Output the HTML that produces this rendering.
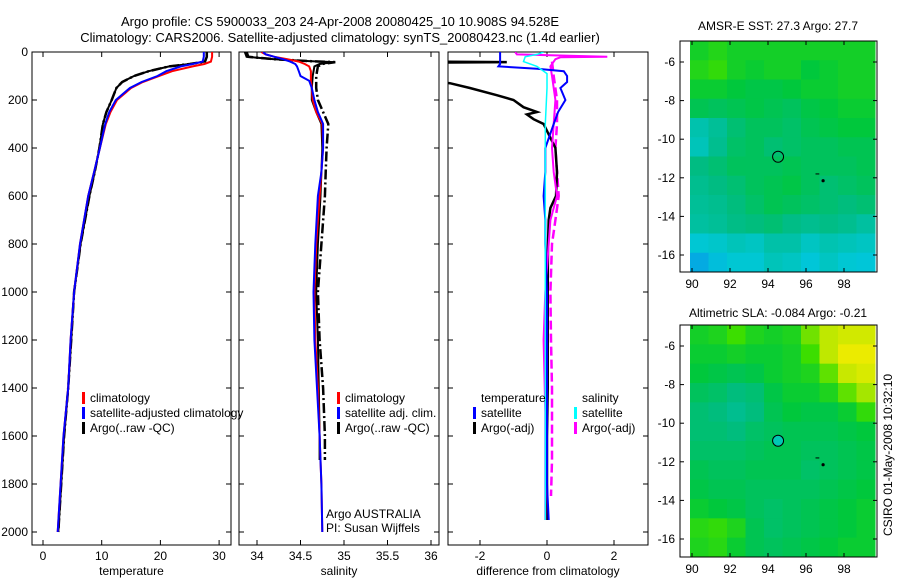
<!DOCTYPE html>
<html><head><meta charset="utf-8"><style>
body{margin:0;background:#fff;}
svg{display:block;font-family:"Liberation Sans",sans-serif;}
text{font-size:12px;fill:#000;}
</style></head><body>
<svg id="c" width="900" height="580" xmlns="http://www.w3.org/2000/svg">
<rect width="900" height="580" fill="#fff"/>
<text x="340" y="26" text-anchor="middle" style="font-size:13px">Argo profile: CS 5900033_203 24-Apr-2008 20080425_10 10.908S 94.528E</text>
<text x="340" y="42" text-anchor="middle" style="font-size:13px">Climatology: CARS2006. Satellite-adjusted climatology: synTS_20080423.nc (1.4d earlier)</text>
<text x="778" y="30" text-anchor="middle">AMSR-E SST: 27.3 Argo: 27.7</text>
<text x="778" y="317" text-anchor="middle">Altimetric SLA: -0.084 Argo: -0.21</text>
<text transform="translate(892,455) rotate(-90)" text-anchor="middle">CSIRO 01-May-2008 10:32:10</text>
<g id="g"></g>
</svg>
<script>
// ---- data ----
const depthTicks=[0,200,400,600,800,1000,1200,1400,1600,1800,2000];
const tTicks=[0,10,20,30];
const sTicks=[34,34.5,35,35.5,36];
const dTicks=[-2,0,2];
const depthT=[0,20,40,50,60,80,100,125,150,200,250,300,400,500,600,800,1000,1200,1400,1600,1800,2000];
const climT=[28.8,28.8,28.6,27.5,25.5,22,19.8,17,15,12.6,11.5,10.7,9.7,8.7,7.7,6.3,5.3,4.7,4.3,3.5,3.0,2.5];
const satT=[27.4,27.4,27.2,25.5,23.5,21,19.5,16.8,14.8,12.4,11.3,10.6,9.7,8.7,7.7,6.3,5.3,4.7,4.3,3.5,3.0,2.5];
const argoT=[27.9,27.9,27.6,25,21.5,18,15.5,13.5,12.5,11.7,10.8,10.2,9.6,8.8,7.9,6.4,5.3,4.8,4.3,3.6,3.1,2.6];
const depthS=[0,10,20,30,40,50,60,80,100,120,150,200,250,300,400,500,600,800,1000,1200,1400,1600,1800,2000];
const climS=[34.05,34.1,34.2,34.35,34.48,34.55,34.6,34.62,34.62,34.62,34.63,34.64,34.68,34.75,34.76,34.74,34.72,34.68,34.66,34.67,34.7,34.72,34.74,34.75];
const satS=[34.07,34.1,34.2,34.3,34.38,34.44,34.46,34.48,34.5,34.6,34.63,34.66,34.7,34.76,34.76,34.74,34.7,34.67,34.65,34.66,34.69,34.72,34.74,34.75];
const depthA=[0,20,30,38,42,50,60,100,150,200,250,300,400,500,600,800,1000,1200,1400,1600,1700];
const argoS=[33.86,33.88,34.2,34.6,34.88,34.72,34.66,34.64,34.63,34.63,34.68,34.74,34.75,34.74,34.73,34.7,34.68,34.7,34.71,34.72,34.72];
const argoRawS=[33.88,33.9,34.2,34.6,34.9,34.75,34.7,34.68,34.68,34.7,34.76,34.82,34.8,34.79,34.78,34.74,34.7,34.72,34.76,34.78,34.78];
const depthD=[0,10,20,30,40,50,60,70,80,100,125,150,200,250,300,400,500,600,700,800,1000,1200,1400,1600,1800,1950];
const tempSatD=[-1.4,-1.4,-1.4,-1.4,-1.4,-1.4,-1.45,-0.3,0.5,0.6,0.6,0.4,0.55,0.33,0.2,-0.05,-0.05,-0.1,-0.05,-0.05,0,0,0,0,0,0.05];
const depthAD=[0,40,42,44,120,130,150,180,200,230,250,260,280,300,400,500,600,650,700,800,1000,1200,1400,1600,1800,1950];
const tempArgoD=[-3.5,-3.5,-1.2,-3.5,-3.5,-2.9,-2.3,-1.5,-1.0,-0.7,-0.3,-0.6,-0.4,-0.1,0.25,0.3,0.27,0.1,0.05,0.03,0.02,0.02,0.02,0,0,0];
const depthCD=[0,10,20,40,60,90,150,300,600,1000,1500,1950];
const salSatD=[-0.1,-0.3,-0.65,-0.7,-0.3,0,0,-0.05,-0.05,-0.05,-0.05,-0.05];
const depthMD=[0,10,20,22,30,60,100,200,300,400,500,600,700,800,1000,1200,1500,1800,1950];
const salArgoD=[-0.95,-0.9,1.8,0.4,0.25,0.1,0.15,0.25,0.2,0.15,0.2,0.3,0.1,0.05,-0.05,-0.1,-0.05,-0.05,-0.05];
const depthMD2=[40,100,200,300,400,500,600,700,800,1000,1200,1400,1600,1700,1850];
const salArgoRawD=[0.15,0.2,0.3,0.3,0.25,0.3,0.35,0.25,0.15,0.1,0.12,0.15,0.15,0.15,0.12];
const latTicks=[-6,-8,-10,-12,-14,-16];
const lonTicks=[90,92,94,96,98];
const sstGrid=[
[.72,.75,.72,.72,.72,.72,.72,.72,.72,.72],
[.75,.78,.72,.70,.72,.72,.68,.70,.72,.72],
[.70,.70,.68,.66,.66,.68,.70,.70,.72,.72],
[.64,.62,.64,.66,.64,.62,.66,.68,.70,.70],
[.45,.50,.58,.62,.62,.60,.64,.66,.68,.68],
[.42,.52,.60,.62,.58,.60,.62,.62,.64,.64],
[.55,.58,.62,.62,.62,.64,.62,.62,.62,.64],
[.52,.55,.58,.62,.64,.66,.62,.58,.60,.62],
[.50,.52,.56,.60,.64,.62,.60,.58,.56,.58],
[.48,.50,.54,.56,.58,.54,.52,.54,.52,.48],
[.36,.38,.42,.40,.46,.46,.40,.44,.42,.40],
[.20,.30,.36,.36,.42,.40,.34,.40,.36,.34]];
const slaGrid=[
[.72,.74,.80,.74,.72,.74,.86,.95,.97,.97],
[.70,.70,.72,.70,.70,.72,.80,.95,1,1],
[.68,.66,.64,.66,.70,.72,.74,.84,.96,.98],
[.62,.60,.56,.58,.66,.70,.70,.74,.84,.92],
[.58,.56,.52,.56,.64,.68,.66,.66,.70,.78],
[.58,.58,.56,.60,.62,.64,.64,.64,.66,.68],
[.60,.60,.60,.62,.64,.64,.62,.62,.64,.66],
[.64,.62,.62,.64,.64,.64,.60,.62,.64,.66],
[.66,.64,.64,.62,.62,.62,.62,.64,.66,.68],
[.70,.68,.66,.62,.60,.62,.64,.66,.68,.70],
[.76,.78,.74,.64,.60,.62,.64,.66,.68,.70],
[.74,.76,.70,.64,.62,.64,.66,.68,.70,.70]];
const floatLon=[94.53]; const floatLat=[-10.91];

// ---- drawing ----
const NS="http://www.w3.org/2000/svg";
const G=document.getElementById('g');
function mk(tag,attrs,parent){const e=document.createElementNS(NS,tag);for(const k in attrs)e.setAttribute(k,attrs[k]);(parent||G).appendChild(e);return e;}
const yD=d=>52+d*0.24;
const PT=y0=>0;
function panel(x0,x1,xf,ticks,fmt,label,name,showY){
  const g=mk('g',{});
  
  
  const cid='clip-'+name;
  const cp=mk('clipPath',{id:cid},g);mk('rect',{x:x0,y:52,width:x1-x0,height:493},cp);
  const frame=mk('rect',{x:x0,y:52,width:x1-x0,height:493,fill:'none',stroke:'#000','stroke-width':1},g);
  
  
  depthTicks.forEach(d=>{const y=yD(d);
    mk('line',{x1:x0,x2:x0+5,y1:y,y2:y,stroke:'#000'},g);mk('line',{x1:x1-5,x2:x1,y1:y,y2:y,stroke:'#000'},g);
    if(showY){const t=mk('text',{x:x0-4,y:y+4,'text-anchor':'end'},g);t.textContent=d;
      
      }});
  ticks.forEach(v=>{const x=xf(v);
    mk('line',{x1:x,x2:x,y1:545,y2:540,stroke:'#000'},g);mk('line',{x1:x,x2:x,y1:52,y2:57,stroke:'#000'},g);
    const t=mk('text',{x:x,y:560,'text-anchor':'middle'},g);t.textContent=fmt(v);
    
    });
  const l=mk('text',{x:(x0+x1)/2,y:575,'text-anchor':'middle'},g);l.textContent=label;
  
  
  const lg=mk('g',{'clip-path':'url(#'+cid+')'},g);
  return lg;
}
function line(g,depths,vals,xf,color,w,dash,name){
  const pts=depths.map((d,i)=>xf(vals[i]).toFixed(1)+','+yD(d).toFixed(1)).join(' ');
  const p=mk('polyline',{points:pts,fill:'none',stroke:color,'stroke-width':w},g);
  if(dash)p.setAttribute('stroke-dasharray',dash);
  
  
}
const xT=v=>43+v*5.87, xS=v=>257+(v-34)*87, xDf=v=>547+v*33.5;
const p1=panel(32,231,xT,tTicks,v=>v,'temperature','temperature-panel',true);
line(p1,depthT,argoT,xT,'#000',2.5,'10,3,2,3','temp-argo-raw');
line(p1,depthT,argoT,xT,'#000',2,null,'temp-argo');
line(p1,depthT,climT,xT,'#f00',2,null,'temp-climatology');
line(p1,depthT,satT,xT,'#00f',2,null,'temp-satellite-adjusted');
const p2=panel(239,439,xS,sTicks,v=>v,'salinity','salinity-panel',false);
line(p2,depthA,argoRawS,xS,'#000',2.5,'10,3,2,3','sal-argo-raw');
line(p2,depthA,argoS,xS,'#000',2,null,'sal-argo');
line(p2,depthS,climS,xS,'#f00',2,null,'sal-climatology');
line(p2,depthS,satS,xS,'#00f',2,null,'sal-satellite-adjusted');
const p3=panel(448,648,xDf,dTicks,v=>v,'difference from climatology','difference-panel',false);
line(p3,depthMD2,salArgoRawD,xDf,'#f0f',2.5,'9,4','sal-argo-adj-raw-diff');
line(p3,depthAD,tempArgoD,xDf,'#000',2.5,null,'temp-argo-adj-diff');
line(p3,depthMD,salArgoD,xDf,'#f0f',2,null,'sal-argo-adj-diff');
line(p3,depthD,tempSatD,xDf,'#00f',2,null,'temp-satellite-diff');
line(p3,depthCD,salSatD,xDf,'#0ff',1.5,null,'sal-satellite-diff');
// legends
function legend(x,y,items,name){
  const g=mk('g',{});
  
  
  items.forEach((it,i)=>{const yy=y+i*15;
    if(it[1]){mk('rect',{x:x,y:yy-10,width:3,height:12,fill:it[1]},g);}
    const t=mk('text',{x:x+8,y:yy},g);t.textContent=it[0];});
}
legend(82,402,[['climatology','#f00'],['satellite-adjusted climatology','#00f'],['Argo(..raw -QC)','#000']],'temperature-legend');
legend(337,402,[['climatology','#f00'],['satellite adj. clim.','#00f'],['Argo(..raw -QC)','#000']],'salinity-legend');
legend(473,402,[['temperature',null],['satellite','#00f'],['Argo(-adj)','#000']],'diff-temperature-legend');
legend(574,402,[['salinity',null],['satellite','#0ff'],['Argo(-adj)','#f0f']],'diff-salinity-legend');
const a1=mk('text',{x:326,y:518});a1.textContent='Argo AUSTRALIA';


const a2=mk('text',{x:326,y:532});a2.textContent='PI: Susan Wijffels';


// maps
const stops=[[0,[10,130,240]],[0.35,[0,200,215]],[0.55,[0,188,130]],[0.68,[0,200,60]],[0.8,[60,222,0]],[1,[235,235,0]]];
function cmap(v){for(let i=1;i<stops.length;i++){if(v<=stops[i][0]){const a=stops[i-1],b=stops[i],t=(v-a[0])/(b[0]-a[0]);
  return 'rgb('+a[1].map((c,k)=>Math.round(c+(b[1][k]-c)*t)).join(',')+')';}}return 'rgb(235,235,0)';}
function map(y0,y1,grid,name,fillCircle){
  const g=mk('g',{});
  
  
  const xL=v=>692+(v-90)*19, latTop=y0===41?62:346, yL=v=>latTop+(-6-v)*19.3;
  const mx0=690,mx1=875,rows=grid.length,cols=grid[0].length,cw=(mx1-mx0)/cols,ch=(y1-y0)/rows;
  grid.forEach((row,r)=>row.forEach((v,c)=>{const cell=mk('rect',{x:mx0+c*cw,y:y0+r*ch,width:cw+0.5,height:ch+0.5,fill:cmap(v)},g);
    
    }));
  mk('rect',{x:680,y:y0,width:197,height:y1-y0,fill:'none',stroke:'#000'},g);
  latTicks.forEach(v=>{const y=yL(v);mk('line',{x1:680,x2:684,y1:y,y2:y,stroke:'#000'},g);mk('line',{x1:873,x2:877,y1:y,y2:y,stroke:'#000'},g);
    const t=mk('text',{x:675,y:y+4,'text-anchor':'end'},g);t.textContent=v;
    
    });
  lonTicks.forEach(v=>{const x=xL(v);mk('line',{x1:x,x2:x,y1:y0,y2:y0+4,stroke:'#000'},g);mk('line',{x1:x,x2:x,y1:y1-4,y2:y1,stroke:'#000'},g);
    const t=mk('text',{x:x,y:y1+16,'text-anchor':'middle'},g);t.textContent=v;
    
    });
  floatLon.forEach((lo,i)=>{const c=mk('circle',{cx:xL(lo),cy:yL(floatLat[i]),r:5.5,fill:fillCircle?'#00c8b4':'none',stroke:'#000','stroke-width':1},g);
    
    });
  mk('circle',{cx:xL(96.9),cy:yL(-12.15),r:1.6,fill:'#000'},g);
  mk('line',{x1:xL(96.5),x2:xL(96.7),y1:yL(-11.8),y2:yL(-11.8),stroke:'#000'},g);
}
map(41,272,sstGrid,'sst-map',false);
map(325,557,slaGrid,'sla-map',true);
</script>
</body></html>
